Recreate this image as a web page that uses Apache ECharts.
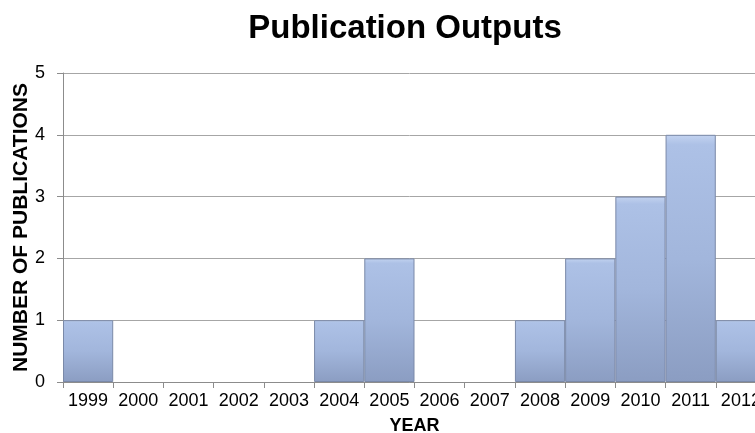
<!DOCTYPE html>
<html>
<head>
<meta charset="utf-8">
<script src="https://cdn.jsdelivr.net/npm/echarts@6/dist/echarts.min.js"></script>
<style>
html,body{margin:0;padding:0;background:#fff;}
#main{width:755px;height:433px;}
</style>
</head>
<body>
<div id="main"></div>
<script>
const years = ['1999','2000','2001','2002','2003','2004','2005','2006','2007','2008','2009','2010','2011','2012'];
const publications = [1,0,0,0,0,1,2,0,0,1,2,3,4,1];
const yTicks = [0,1,2,3,4,5];

const FONT = '"Liberation Sans", Arial, Helvetica, sans-serif';
const chart = echarts.init(document.getElementById('main'));
chart.setOption({
  animation: false,
  backgroundColor: '#fff',
  title: {
    text: 'Publication Outputs',
    left: 400,
    top: 7,
    textAlign: 'center',
    textStyle: {fontFamily: FONT, fontWeight: 'bold', fontSize: 33, color: '#000'}
  },
  grid: {left: 63, top: 73, width: 703, height: 309, containLabel: false, outerBoundsMode: 'none'},
  xAxis: {
    type: 'category',
    data: years,
    name: 'YEAR',
    nameLocation: 'middle',
    nameGap: 35,
    nameMoveOverlap: false,
    nameTextStyle: {fontFamily: FONT, fontWeight: 'bold', fontSize: 18, color: '#000'},
    axisLine: {lineStyle: {color: '#8c8c8c', width: 1}},
    axisTick: {show: true, length: 6, lineStyle: {color: '#8c8c8c'}},
    axisLabel: {fontFamily: FONT, fontSize: 18, color: '#000', margin: 10, interval: 0},
    splitLine: {show: false}
  },
  yAxis: {
    type: 'value',
    min: yTicks[0],
    max: yTicks[yTicks.length - 1],
    interval: 1,
    name: 'NUMBER OF PUBLICATIONS',
    nameLocation: 'middle',
    nameRotate: 90,
    nameGap: 31,
    nameMoveOverlap: false,
    nameTextStyle: {fontFamily: FONT, fontWeight: 'bold', fontSize: 21, color: '#000'},
    axisLine: {show: true, lineStyle: {color: '#8c8c8c', width: 1}},
    axisTick: {show: true, length: 6, lineStyle: {color: '#8c8c8c'}},
    axisLabel: {fontFamily: FONT, fontSize: 18, color: '#000', margin: 18},
    splitLine: {show: true, lineStyle: {color: '#a6a6a6', width: 1}}
  },
  series: [{
    type: 'bar',
    data: publications.map(v => v === 0 ? {value: v, itemStyle: {borderWidth: 0}} : v),
    barCategoryGap: '0%',
    itemStyle: {
      color: new echarts.graphic.LinearGradient(0, 0, 0, 1, [
        {offset: 0, color: '#c3d3f0'},
        {offset: 0.04, color: '#adc1e6'},
        {offset: 0.5, color: '#a2b6dc'},
        {offset: 1, color: '#8b9dc2'}
      ]),
      borderColor: '#7a89a8',
      borderWidth: 1
    }
  }]
});
</script>
</body>
</html>
